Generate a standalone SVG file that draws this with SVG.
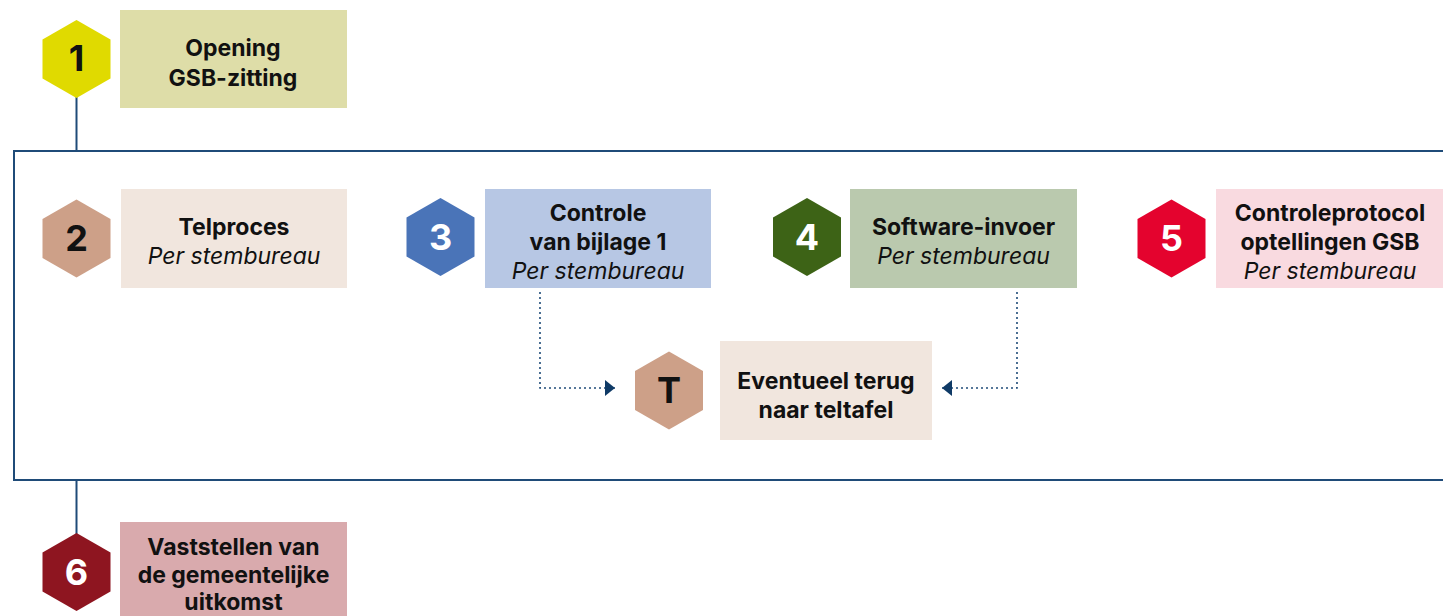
<svg xmlns="http://www.w3.org/2000/svg" width="1443" height="616" viewBox="0 0 1443 616">
<style>
.t{font-family:Inter,"DejaVu Sans",sans-serif;font-size:23px;font-weight:700;text-anchor:middle;fill:#111}
.i{font-family:Inter,"DejaVu Sans",sans-serif;font-size:23px;font-style:italic;text-anchor:middle;fill:#111}
.n{font-family:Inter,"DejaVu Sans",sans-serif;font-size:36px;font-weight:700;text-anchor:middle}
.solid{stroke:#1F4B78;stroke-width:2;fill:none}
.dot{stroke:#1F4B78;stroke-width:1.6;fill:none;stroke-dasharray:2 3}
</style>
<defs>
<polygon id="hex" points="0,-39 34,-19.5 34,19.5 0,39 -34,19.5 -34,-19.5"/>
<marker id="ah" viewBox="0 0 10 16" refX="10" refY="8" markerWidth="10" markerHeight="16" markerUnits="userSpaceOnUse" orient="auto">
<path d="M0,0 L10,8 L0,16 Z" fill="#0F3A66"/>
</marker>
</defs>
<g id="connectors">
<rect x="14" y="151" width="1440" height="329" class="solid"/>
<line x1="76.5" y1="97" x2="76.5" y2="151" class="solid"/>
<line x1="76.5" y1="480" x2="76.5" y2="534" class="solid"/>
<path d="M540,292 V388 H615" class="dot" marker-end="url(#ah)"/>
<path d="M1017,292 V388 H942" class="dot" marker-end="url(#ah)"/>
</g>
<g id="node1">
<use href="#hex" x="76.5" y="59" fill="#E0DA00"/>
<text class="n" x="76.5" y="71" fill="#111">1</text>
<rect x="120" y="10" width="227" height="98" fill="#DEDDA8"/>
<text class="t" x="233" y="56">Opening</text>
<text class="t" x="233" y="86">GSB-zitting</text>
</g>
<g id="node2">
<use href="#hex" x="76.5" y="238.5" fill="#CDA088"/>
<text class="n" x="76.5" y="251" fill="#111">2</text>
<rect x="121" y="189" width="226" height="99" fill="#F1E6DE"/>
<text class="t" x="234" y="235">Telproces</text>
<text class="i" x="234" y="264">Per stembureau</text>
</g>
<g id="node3">
<use href="#hex" x="440.5" y="237" fill="#4A74B8"/>
<text class="n" x="440.5" y="250" fill="#fff">3</text>
<rect x="485" y="189" width="226" height="99" fill="#B7C7E4"/>
<text class="t" x="598" y="221">Controle</text>
<text class="t" x="598" y="250">van bijlage 1</text>
<text class="i" x="598" y="279">Per stembureau</text>
</g>
<g id="node4">
<use href="#hex" x="807" y="237" fill="#3D6316"/>
<text class="n" x="807" y="250" fill="#fff">4</text>
<rect x="850" y="189" width="227" height="99" fill="#BAC9AE"/>
<text class="t" x="963.5" y="235">Software-invoer</text>
<text class="i" x="963.5" y="264">Per stembureau</text>
</g>
<g id="node5">
<use href="#hex" x="1171.5" y="238.5" fill="#E4032E"/>
<text class="n" x="1171.5" y="251" fill="#fff">5</text>
<rect x="1216" y="189" width="240" height="99" fill="#F9DAE0"/>
<text class="t" x="1330" y="221">Controleprotocol</text>
<text class="t" x="1330" y="250">optellingen GSB</text>
<text class="i" x="1330" y="279">Per stembureau</text>
</g>
<g id="nodeT">
<use href="#hex" x="669" y="390.5" fill="#CDA088"/>
<text class="n" x="669" y="403" fill="#111">T</text>
<rect x="720" y="341" width="212" height="99" fill="#F1E6DE"/>
<text class="t" x="826" y="389">Eventueel terug</text>
<text class="t" x="826" y="418">naar teltafel</text>
</g>
<g id="node6">
<use href="#hex" x="76.5" y="572" fill="#8E1520"/>
<text class="n" x="76.5" y="585" fill="#fff">6</text>
<rect x="120" y="522" width="227" height="100" fill="#D9AAAD"/>
<text class="t" x="233.5" y="555">Vaststellen van</text>
<text class="t" x="233.5" y="583">de gemeentelijke</text>
<text class="t" x="233.5" y="610">uitkomst</text>
</g>
</svg>
